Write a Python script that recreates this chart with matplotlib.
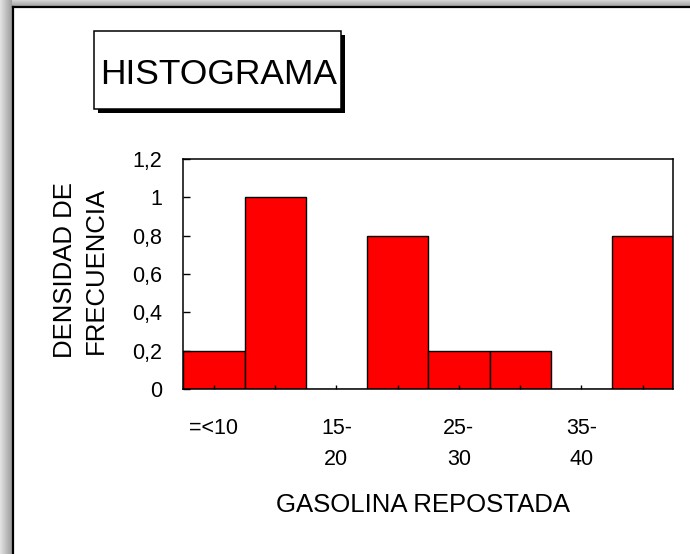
import numpy as np
import matplotlib
matplotlib.use('Agg')
import matplotlib.pyplot as plt
from matplotlib.patches import Rectangle
from matplotlib.lines import Line2D

W, H = 690, 554

plt.rcParams.update({
    'font.family': ['Liberation Sans', 'DejaVu Sans'],
    'axes.linewidth': 1.1,
    'figure.facecolor': 'white',
})

# ---- data ----
categories = ['=<10', '10-\n15', '15-\n20', '20-\n25', '25-\n30', '30-\n35', '35-\n40', '40-\n45']
shown = [True, False, True, False, True, False, True, False]
density = [0.2, 1.0, 0.0, 0.8, 0.2, 0.2, 0.0, 0.8]
yticks = [0, 0.2, 0.4, 0.6, 0.8, 1.0, 1.2]
ytick_labels = ['0', '0,2', '0,4', '0,6', '0,8', '1', '1,2']


def fx(x):
    return x / W


def fy(y):
    return 1 - y / H


fig = plt.figure(figsize=(W / 100, H / 100), dpi=100)

# grey shadow band around the chart frame (top and left)
bg = fig.add_axes([0, 0, 1, 1], zorder=-10)
xx, yy = np.meshgrid(np.arange(W), np.arange(H))
img = np.ones((H, W))
left = xx < 12
top = yy < 6
img[left] = 0.88 - 0.28 * (xx[left] / 12.0)
img[top & ~left] = 0.82 - 0.2 * (yy[top & ~left] / 6.0)
bg.imshow(img, cmap='gray', vmin=0, vmax=1, extent=[0, W, H, 0], aspect='auto')
bg.set_xlim(0, W)
bg.set_ylim(H, 0)
bg.axis('off')

fig.add_artist(Line2D([fx(12.5), fx(12.5)], [0, fy(6.5)], color='black', lw=1.6,
                      transform=fig.transFigure))
fig.add_artist(Line2D([fx(12.5), 1], [fy(6.5), fy(6.5)], color='black', lw=1.6,
                      transform=fig.transFigure))

# ---- main plot ----
x0, x1, y0, y1 = 183.3, 673.3, 159, 389
ax = fig.add_axes([fx(x0), fy(y1), fx(x1) - fx(x0), fy(y0) - fy(y1)])
xpos = np.arange(len(categories))
ax.bar(xpos, density, width=1.0, color='#ff0000', edgecolor='black', linewidth=1.0)
ax.set_xlim(-0.5, len(categories) - 0.5)
ax.set_ylim(0, 1.2)

ax.set_xticks(xpos)
ax.set_xticklabels([c if s else '' for c, s in zip(categories, shown)],
                   fontsize=15.5, linespacing=1.6)
ax.set_yticks(yticks)
ax.set_yticklabels(ytick_labels, fontsize=15.5)
ax.tick_params(axis='x', direction='in', length=3, width=1, pad=21)
ax.tick_params(axis='y', direction='in', length=5, width=1, pad=15)

ax.set_ylabel('DENSIDAD DE\nFRECUENCIA', fontsize=18.5, linespacing=1.35, va='center')
ax.yaxis.set_label_coords((80.5 - x0) / (x1 - x0), (y1 - 270) / (y1 - y0))
ax.set_xlabel('GASOLINA REPOSTADA', fontsize=18.5, va='baseline')
ax.xaxis.set_label_coords((423.5 - x0) / (x1 - x0), (y1 - 512) / (y1 - y0))

# ---- title box with drop shadow ----
fig.add_artist(Rectangle((fx(98), fy(112.5)), fx(344.5) - fx(98), fy(35) - fy(112.5),
                         transform=fig.transFigure, facecolor='black', edgecolor='none'))
fig.add_artist(Rectangle((fx(94.5), fy(108.5)), fx(340.5) - fx(94.5), fy(31) - fy(108.5),
                         transform=fig.transFigure, facecolor='white', edgecolor='black',
                         linewidth=1.1))
fig.text(fx(218.5), fy(84), 'HISTOGRAMA', ha='center', va='baseline', fontsize=25.5)

fig.savefig('out.png', dpi=100)
